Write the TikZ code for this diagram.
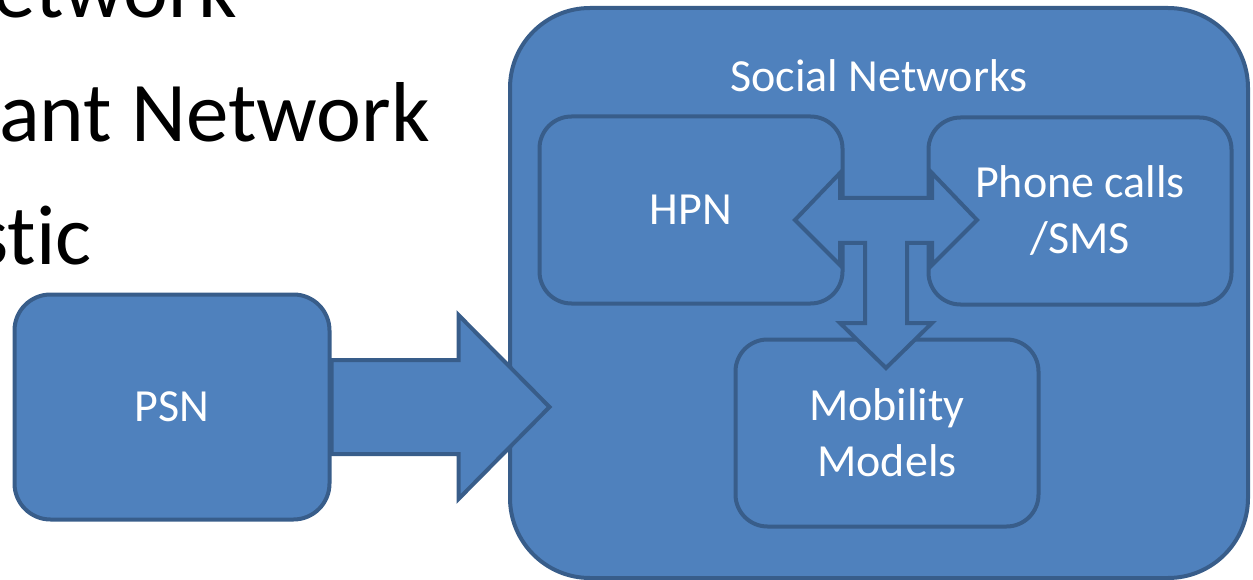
\documentclass[tikz,border=0pt]{standalone}
\usepackage{fontspec}
\setmainfont{Carlito}[Ligatures={NoCommon,NoContextual}]
\definecolor{boxblue}{HTML}{4F81BD}
\definecolor{edgeblue}{HTML}{385D8A}
\begin{document}
\begin{tikzpicture}[x=1pt,y=-1pt,
box/.style={%
draw=edgeblue,
fill=boxblue,
line width=4pt,
rounded corners=32pt,
text=white,
align=center,
inner sep=0pt,
font=\fontsize{46}{56}\selectfont,
minimum width=303pt,
minimum height=187pt
},
outer/.style={%
rounded corners=80pt,
minimum width=738pt,
minimum height=570pt
},
psnbox/.style={%
minimum width=315pt,
minimum height=225pt,
rounded corners=36pt
},
bigarrow/.style={%
draw=edgeblue,
fill=boxblue,
line width=4pt,
line join=miter
},
slide/.style={%
anchor=base east,
inner sep=0pt,
font=\fontsize{85}{100}\selectfont
}]
\useasboundingbox (0,0) rectangle (1253,580);
\clip (0,0) rectangle (1253,580);
\node[slide]at(237,18)(l1){etwork};
\node[slide]at(430,142)(l2){ant Network};
\node[slide]at(92,265)(l3){st\kern0pt ic};
\node[box,outer]at(879,293)(soc){};
\node[text=white,inner sep=0pt,font=\fontsize{46}{56}\selectfont]at(879,76)(soctitle){Social Networks};
\node[box]at(691,210)(hpn){HPN};
\node[box]at(1080,211)(phone){Phone calls\\/SMS};
\node[box]at(887,433)(mob){Mobility\\Models};
\node[box,psnbox]at(172,407)(psn){PSN};
\coordinate (hub) at (886,220);
\draw[bigarrow] (psn.east) ++(0,-47) -- ++(127,0) -- ++(0,-45) -- ++(91,92)
 -- ++(-91,92) -- ++(0,-45) -- ++(-127,0) -- cycle;
\draw[bigarrow,shift={(hub)}] (-46,-22) -- (-46,-47) -- (-91,0) -- (-46,45)
 -- (-46,23) -- (-21,23) -- (-21,103) -- (-46,103) -- (0,148) -- (46,103)
 -- (21,103) -- (21,23) -- (46,23) -- (46,45) -- (91,0) -- (46,-47)
 -- (46,-22) -- cycle;
\end{tikzpicture}
\end{document}
